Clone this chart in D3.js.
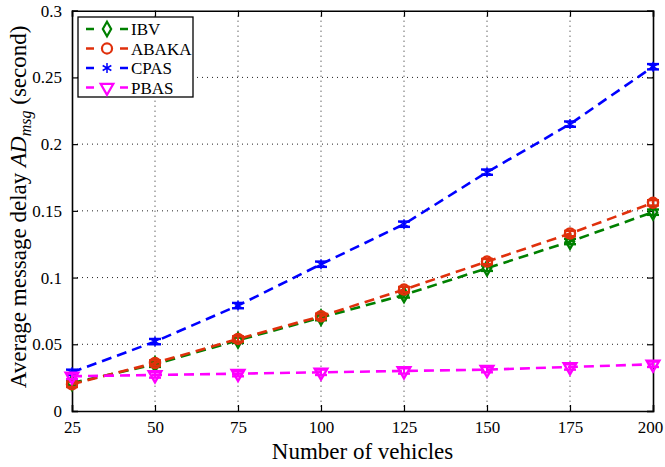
<!DOCTYPE html>
<html>
<head>
<meta charset="utf-8">
<script src="https://cdn.jsdelivr.net/npm/d3@7"></script>
<style>
  body { margin: 0; background: #fff; }
  text { font-family: "Liberation Serif", "DejaVu Serif", serif; }
</style>
</head>
<body>
<script>
// vehicles on the x axis
var vehicles = [25, 50, 75, 100, 125, 150, 175, 200];

// delay values (second)
var ibv   = [0.021, 0.035, 0.053, 0.070, 0.087, 0.107, 0.127, 0.149];
var abaka = [0.020, 0.036, 0.054, 0.071, 0.091, 0.112, 0.133, 0.156];
var cpas  = [0.029, 0.052, 0.079, 0.110, 0.140, 0.179, 0.215, 0.258];
var pbas  = [0.026, 0.027, 0.028, 0.029, 0.030, 0.031, 0.033, 0.035];

// half height of error bars
var errIbv   = [0.002, 0.002, 0.002, 0.002, 0.002, 0.002, 0.002, 0.002];
var errAbaka = [0.002, 0.002, 0.002, 0.002, 0.002, 0.002, 0.002, 0.002];
var errCpas  = [0.002, 0.002, 0.002, 0.002, 0.002, 0.002, 0.002, 0.002];
var errPbas  = [0.002, 0.002, 0.002, 0.002, 0.002, 0.002, 0.002, 0.002];

var yTicks = [0, 0.05, 0.1, 0.15, 0.2, 0.25, 0.3];
var yTickLabels = ["0", "0.05", "0.1", "0.15", "0.2", "0.25", "0.3"];

var series = [
    { name: "IBV",   values: ibv,   err: errIbv,   color: "#008000", marker: "diamond" },
    { name: "ABAKA", values: abaka, err: errAbaka, color: "#e0300c", marker: "circle" },
    { name: "CPAS",  values: cpas,  err: errCpas,  color: "#0000ff", marker: "star" },
    { name: "PBAS",  values: pbas,  err: errPbas,  color: "#ff00ff", marker: "triangle" }
];

var width = 665, height = 467;
var margin = { top: 10.7, right: 12, bottom: 56, left: 72 };
var w = width - margin.left - margin.right,
    h = height - margin.top - margin.bottom;

var svg = d3.select("body").append("svg")
    .attr("width", width)
    .attr("height", height);

var g = svg.append("g")
    .attr("transform", "translate(" + margin.left + "," + margin.top + ")");

var x = d3.scaleLinear().domain([25, 200]).range([0, w]);
var y = d3.scaleLinear().domain([0, 0.3]).range([h, 0]);

// grid
g.append("g").selectAll("line")
    .data(vehicles.slice(1, -1))
    .enter().append("line")
    .attr("x1", function (d) { return x(d); })
    .attr("x2", function (d) { return x(d); })
    .attr("y1", 0).attr("y2", h)
    .attr("stroke", "#222").attr("stroke-width", 1)
    .attr("stroke-dasharray", "1,4");

g.append("g").selectAll("line")
    .data(yTicks.slice(1, -1))
    .enter().append("line")
    .attr("y1", function (d) { return y(d); })
    .attr("y2", function (d) { return y(d); })
    .attr("x1", 0).attr("x2", w)
    .attr("stroke", "#222").attr("stroke-width", 1)
    .attr("stroke-dasharray", "1,4");

// axes, ticks inside like matlab
var xAxis = d3.axisBottom(x).tickValues(vehicles).tickSize(-6).tickPadding(10)
    .tickFormat(d3.format("d"));
var yAxis = d3.axisLeft(y).tickValues(yTicks).tickSize(-6).tickPadding(10)
    .tickFormat(function (d, i) { return yTickLabels[i]; });

var xg = g.append("g").attr("transform", "translate(0," + h + ")").call(xAxis)
    .call(styleAxis);
// last label sits on the edge of the window
xg.selectAll(".tick text").filter(function (d) { return d === 200; }).attr("dx", -3);
g.append("g").call(yAxis).call(styleAxis);
g.append("g").call(d3.axisTop(x).tickValues(vehicles).tickSize(-6).tickFormat(""))
    .call(styleAxis);
g.append("g").attr("transform", "translate(" + w + ",0)")
    .call(d3.axisRight(y).tickValues(yTicks).tickSize(-6).tickFormat(""))
    .call(styleAxis);

function styleAxis(sel) {
    sel.select(".domain").attr("stroke", "#000").attr("stroke-width", 1.6);
    sel.selectAll(".tick line").attr("stroke", "#000").attr("stroke-width", 1.2);
    sel.selectAll(".tick text").attr("fill", "#000")
        .style("font-size", "17px").style("font-family", "Liberation Serif, serif");
}

// marker shapes
function markerPath(type) {
    if (type === "diamond") return d3.symbol().type(d3.symbolDiamond).size(60)();
    if (type === "circle") return d3.symbol().type(d3.symbolCircle).size(80)();
    if (type === "star") return d3.symbol().type(d3.symbolAsterisk).size(70)();
    return d3.symbol().type(d3.symbolTriangle).size(70)();
}

var line = d3.line()
    .x(function (d, i) { return x(vehicles[i]); })
    .y(function (d) { return y(d); });

series.forEach(function (s) {
    var sg = g.append("g");
    sg.append("path")
        .datum(s.values)
        .attr("d", line)
        .attr("fill", "none")
        .attr("stroke", s.color)
        .attr("stroke-width", 2.6)
        .attr("stroke-dasharray", "10,6");

    // error bars
    var eb = sg.selectAll(".eb").data(s.values).enter().append("g");
    eb.append("line")
        .attr("x1", function (d, i) { return x(vehicles[i]); })
        .attr("x2", function (d, i) { return x(vehicles[i]); })
        .attr("y1", function (d, i) { return y(d - s.err[i]); })
        .attr("y2", function (d, i) { return y(d + s.err[i]); })
        .attr("stroke", s.color).attr("stroke-width", 2);
    [-1, 1].forEach(function (sign) {
        eb.append("line")
            .attr("x1", function (d, i) { return x(vehicles[i]) - 6; })
            .attr("x2", function (d, i) { return x(vehicles[i]) + 6; })
            .attr("y1", function (d, i) { return y(d + sign * s.err[i]); })
            .attr("y2", function (d, i) { return y(d + sign * s.err[i]); })
            .attr("stroke", s.color).attr("stroke-width", 2.4);
    });

    sg.selectAll(".mk").data(s.values).enter().append("path")
        .attr("d", markerPath(s.marker))
        .attr("transform", function (d, i) {
            var rot = s.marker === "triangle" ? " rotate(180)" : "";
            return "translate(" + x(vehicles[i]) + "," + y(d) + ")" + rot;
        })
        .attr("fill", s.marker === "star" ? s.color : "none")
        .attr("stroke", s.color)
        .attr("stroke-width", s.marker === "star" ? 1.5 : 2.4);
});

// axis labels
svg.append("text")
    .attr("x", margin.left + w / 2)
    .attr("y", 459)
    .attr("text-anchor", "middle")
    .style("font-size", "23px")
    .text("Number of vehicles");

var yl = svg.append("text")
    .attr("transform", "translate(26," + (margin.top + h / 2 - 4) + ") rotate(-90)")
    .attr("text-anchor", "middle")
    .style("font-size", "23px");
yl.append("tspan").text("Average message delay ");
yl.append("tspan").style("font-style", "italic").text("AD");
yl.append("tspan").style("font-style", "italic").style("font-size", "16px")
    .attr("dy", 5).text("msg");
yl.append("tspan").attr("dy", -5).text(" (second)");

// legend
var lg = svg.append("g").attr("transform", "translate(78,17)");
lg.append("rect").attr("width", 115).attr("height", 80)
    .attr("fill", "#fff").attr("stroke", "#000").attr("stroke-width", 1.3);

var items = lg.selectAll(".item").data(series).enter().append("g")
    .attr("transform", function (d, i) { return "translate(0," + (12 + i * 19.5) + ")"; });
items.append("line")
    .attr("x1", 8).attr("x2", 50).attr("y1", 0).attr("y2", 0)
    .attr("stroke", function (d) { return d.color; })
    .attr("stroke-width", 2.6)
    .attr("stroke-dasharray", "8,26");
items.append("path")
    .attr("d", function (d) { return markerPath(d.marker); })
    .attr("transform", function (d) {
        return "translate(29,0)" + (d.marker === "triangle" ? " rotate(180)" : "");
    })
    .attr("fill", function (d) { return d.marker === "star" ? d.color : "none"; })
    .attr("stroke", function (d) { return d.color; })
    .attr("stroke-width", function (d) { return d.marker === "star" ? 1.5 : 2.2; });
items.append("text")
    .attr("x", 53).attr("y", 6)
    .style("font-size", "17px")
    .text(function (d) { return d.name; });
</script>
</body>
</html>
